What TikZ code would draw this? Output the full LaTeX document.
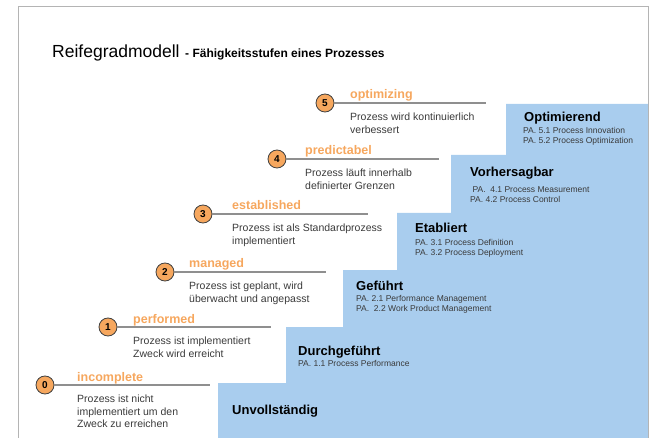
\documentclass[tikz,border=0pt]{standalone}
\usepackage{fontspec}
\setmainfont{Liberation Sans}
\usetikzlibrary{positioning}

\definecolor{stairblue}{HTML}{A9CDEE}
\definecolor{lvlorange}{HTML}{F6A75E}
\definecolor{txtgray}{HTML}{3A3A3A}
\definecolor{rulegray}{HTML}{8F8F8F}
\definecolor{framegray}{HTML}{B4B4B4}

\tikzstyle{lvl}=[circle, draw=black!75, line width=0.8pt, fill=lvlorange, inner sep=0, minimum size=18pt, font=\fontsize{10}{10}\selectfont\bfseries]
\tikzstyle{lvlname}=[anchor=base west, inner sep=0, text=lvlorange, font=\fontsize{12.5}{12.5}\selectfont\bfseries]
\tikzstyle{lvldesc}=[anchor=north west, inner sep=0, align=left, text=txtgray, font=\fontsize{10.5}{12.5}\selectfont]
\tikzstyle{stage}=[anchor=base west, inner sep=0, font=\fontsize{13}{13}\selectfont\bfseries]
\tikzstyle{pa}=[anchor=north west, inner sep=0, align=left, text=txtgray, font=\fontsize{8.5}{10}\selectfont]

\begin{document}
\begin{tikzpicture}[x=1pt, y=-1pt]
	\useasboundingbox (0,0) rectangle (650,438);

	% stairs and frame
	\fill[stairblue] (218,438) -- (218,383) -- (286,383) -- (286,327) -- (343,327) -- (343,270)
		-- (397,270) -- (397,213) -- (451,213) -- (451,155) -- (506,155) -- (506,104)
		-- (648,104) -- (648,438) -- cycle;
	\draw[framegray, line width=1pt] (18,438) -- (18,7) -- (648,7) -- (648,438);

	\node[anchor=base west, inner sep=0, font=\fontsize{17.5}{17.5}\selectfont] (title) at (52,58) {Reifegradmodell};
	\node[anchor=base west, inner sep=0, font=\fontsize{12}{12}\selectfont\bfseries] (subtitle) at (185,58) {- Fähigkeitsstufen eines Prozesses};

	\foreach \n/\cx/\cy/\nx/\ex/\name/\desc in {
		0/45/385/77/210/incomplete/{Prozess ist nicht\\implementiert um den\\Zweck zu erreichen},
		1/108/327/133/271/performed/{Prozess ist implementiert\\Zweck wird erreicht},
		2/165/272/189/326/managed/{Prozess ist geplant, wird\\überwacht und angepasst},
		3/203/214/232/368/established/{Prozess ist als Standardprozess\\implementiert},
		4/277/159/305/439/predictabel/{Prozess läuft innerhalb\\definierter Grenzen},
		5/325/103/350/486/optimizing/{Prozess wird kontinuierlich\\verbessert}} {
		\node[lvl] (c\n) at (\cx,\cy) {\n};
		\coordinate (e\n) at (\ex,\cy);
		\draw[rulegray, line width=1.2pt] (c\n) -- (e\n);
		\node[lvlname] (n\n) at (\nx,\cy-4) {\name};
		\node[lvldesc] (d\n) at (\nx,\cy+10) {\desc};
	};

	\node[stage] (s0) at (232,414) {Unvollständig};
	\node[stage] (s1) at (298,355) {Durchgeführt};
	\node[pa] (p1) at (298,360) {PA. 1.1 Process Performance};
	\node[stage] (s2) at (356,290) {Geführt};
	\node[pa] (p2) at (356,295) {PA. 2.1 Performance Management\\PA.\ \ 2.2 Work Product Management};
	\node[stage] (s3) at (415,233) {Etabliert};
	\node[pa] (p3) at (415,239) {PA. 3.1 Process Definition\\PA. 3.2 Process Deployment};
	\node[stage] (s4) at (470,177) {Vorhersagbar};
	\node[pa] (p4) at (470,186) {\ PA.\ \ 4.1 Process Measurement\\PA.\ 4.2 Process Control};
	\node[stage] (s5) at (524,122) {Optimierend};
	\node[pa] (p5) at (523,127) {PA. 5.1 Process Innovation\\PA. 5.2 Process Optimization};
\end{tikzpicture}
\end{document}
